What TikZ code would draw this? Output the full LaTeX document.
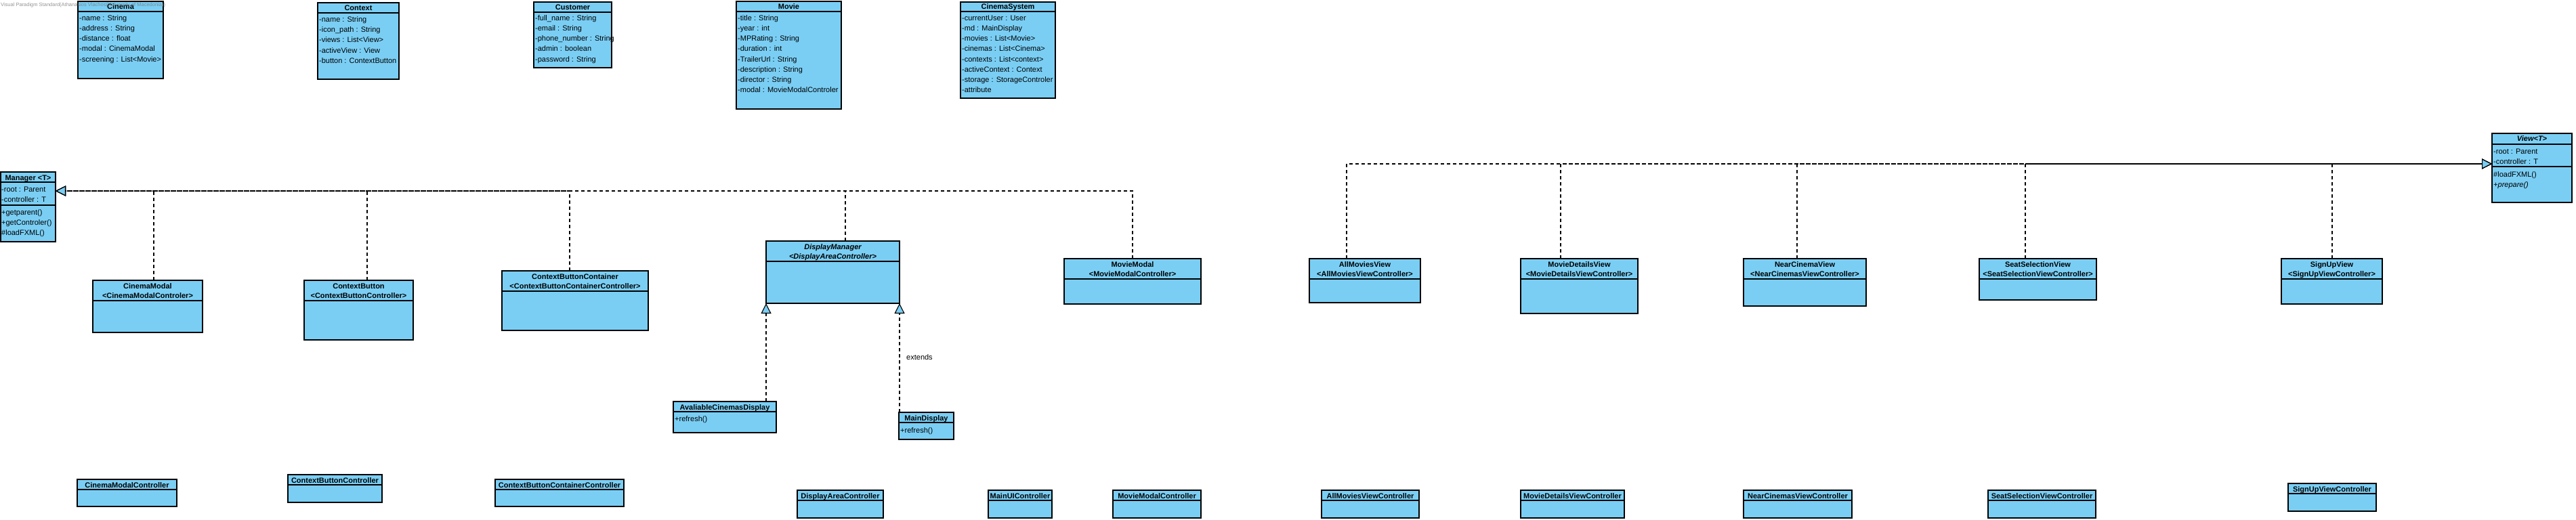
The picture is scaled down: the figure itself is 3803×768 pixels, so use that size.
\documentclass[tikz,border=0pt]{standalone}
\usepackage{fontspec}
\setmainfont{Liberation Sans}
\usetikzlibrary{arrows.meta,fit}
\definecolor{clsblue}{RGB}{122,206,244}
\tikzset{
  cls/.style={draw=black, line width=1.2pt, fill=clsblue, inner sep=0pt, outer sep=0pt},
  sepl/.style={draw=black, line width=1.2pt},
  hdr/.style={font=\fontsize{11}{13}\selectfont\bfseries, inner sep=0pt, anchor=base},
  hdri/.style={font=\fontsize{11}{13}\selectfont\bfseries\itshape, inner sep=0pt, anchor=base},
  attr/.style={font=\fontsize{11}{13}\selectfont, inner sep=0pt, anchor=base west},
  realize/.style={draw=black, line width=1.1pt, dash pattern=on 5pt off 4pt,
    -{Triangle[length=15pt, width=15pt, fill=clsblue, line width=1.1pt]}},
}
\newcommand\ubox[5]{\node[cls, fit={(#2,#3) (#4,#5)}] (#1) {};}
\newcommand\usep[3]{\draw[sepl] (#1,#3) -- (#2,#3);}
\newcommand\attrlist[3]{\foreach \t [count=\i from 0] in {#3} {\node[attr] at (#1,{#2+15*\i}) {\t};}}
\begin{document}
\begin{tikzpicture}[x=1pt,y=-1pt]
\useasboundingbox (0,0) rectangle (3803,768);
\fill[white] (0,0) rectangle (3803,768);

% ---------- top row ----------
\ubox{cinema}{115}{2}{241}{116}\usep{115}{241}{17}
\node[hdr] at (178,14) {Cinema};
\attrlist{117}{31}{-name : String, -address : String, -distance : float, -modal : CinemaModal, -screening : List<Movie>}

\ubox{context}{469}{4}{589}{117}\usep{469}{589}{19}
\node[hdr] at (529,16) {Context};
\attrlist{471}{33}{-name : String, -icon\_path : String, -views : List<View>, -activeView : View, -button : ContextButton}

\ubox{customer}{788}{3}{903}{100}\usep{788}{903}{18}
\node[hdr] at (845.5,15) {Customer};
\attrlist{790}{31}{-full\_name : String, -email : String, -phone\_number : String, -admin : boolean, -password : String}

\ubox{movie}{1087}{2}{1242}{161}\usep{1087}{1242}{17}
\node[hdr] at (1164.5,14) {Movie};
\attrlist{1089}{31}{-title : String, -year : int, -MPRating : String, -duration : int, -TrailerUrl : String, -description : String, -director : String, -modal : MovieModalControler}

\ubox{csys}{1418}{3}{1558}{145}\usep{1418}{1558}{17}
\node[hdr] at (1488,14) {CinemaSystem};
\attrlist{1420}{31}{-currentUser : User, -md : MainDisplay, -movies : List<Movie>, -cinemas : List<Cinema>, -contexts : List<context>, -activeContext : Context, -storage : StorageControler, -attribute}

% ---------- Manager ----------
\ubox{mgr}{1}{254}{82}{357}\usep{1}{82}{269}\usep{1}{82}{303}
\node[hdr] at (41.5,266.5) {Manager <T>};
\attrlist{2}{283}{-root : Parent, -controller : T}
\attrlist{2}{317}{+getparent(), +getControler(), \#loadFXML()}

% ---------- View ----------
\ubox{view}{3679}{197}{3797}{299}\usep{3679}{3797}{213}\usep{3679}{3797}{246}
\node[hdri] at (3738,208) {View<T>};
\attrlist{3681}{227}{-root : Parent, -controller : T}
\attrlist{3681}{261}{\#loadFXML(), {\itshape +prepare()}}

% ---------- middle row ----------
\ubox{cmod}{137}{414}{299}{491}\usep{137}{299}{444}
\node[hdr] at (218,426) {CinemaModal};
\node[hdr] at (218,440.5) {<CinemaModalControler>};

\ubox{cbtn}{449}{414}{610}{502}\usep{449}{610}{444}
\node[hdr] at (529.5,426) {ContextButton};
\node[hdr] at (529.5,440.5) {<ContextButtonController>};

\ubox{cbc}{741}{400}{957}{488}\usep{741}{957}{430}
\node[hdr] at (849,412) {ContextButtonContainer};
\node[hdr] at (849,426.5) {<ContextButtonContainerController>};

\ubox{dm}{1131}{356}{1328}{448}\usep{1131}{1328}{386}
\node[hdri] at (1229.5,368) {DisplayManager};
\node[hdri] at (1229.5,382.5) {<DisplayAreaController>};

\ubox{mmod}{1571}{382}{1773}{449}\usep{1571}{1773}{412}
\node[hdr] at (1672,394) {MovieModal};
\node[hdr] at (1672,408.5) {<MovieModalController>};

\ubox{amv}{1933}{382}{2097}{447}\usep{1933}{2097}{412}
\node[hdr] at (2015,394) {AllMoviesView};
\node[hdr] at (2015,408.5) {<AllMoviesViewController>};

\ubox{mdv}{2245}{382}{2418}{463}\usep{2245}{2418}{412}
\node[hdr] at (2331.5,394) {MovieDetailsView};
\node[hdr] at (2331.5,408.5) {<MovieDetailsViewController>};

\ubox{ncv}{2574}{382}{2755}{452}\usep{2574}{2755}{412}
\node[hdr] at (2664.5,394) {NearCinemaView};
\node[hdr] at (2664.5,408.5) {<NearCinemasViewController>};

\ubox{ssv}{2922}{382}{3095}{443}\usep{2922}{3095}{412}
\node[hdr] at (3008.5,394) {SeatSelectionView};
\node[hdr] at (3008.5,408.5) {<SeatSelectionViewController>};

\ubox{suv}{3368}{382}{3517}{449}\usep{3368}{3517}{412}
\node[hdr] at (3442.5,394) {SignUpView};
\node[hdr] at (3442.5,408.5) {<SignUpViewController>};

% ---------- displays ----------
\ubox{acd}{994}{593}{1146}{639}\usep{994}{1146}{608}
\node[hdr] at (1070,605) {AvaliableCinemasDisplay};
\attrlist{996}{622}{+refresh()}

\ubox{maind}{1327}{609}{1408}{649}\usep{1327}{1408}{624}
\node[hdr] at (1367.5,621) {MainDisplay};
\attrlist{1329}{639}{+refresh()}

\node[attr, anchor=west] (extlbl) at (1338,528) {extends};

% ---------- bottom row ----------
\ubox{cmc}{114}{708}{261}{748}\usep{114}{261}{723}
\node[hdr] at (187.5,720) {CinemaModalController};
\ubox{cbtc}{425}{701}{564}{742}\usep{425}{564}{716}
\node[hdr] at (494.5,713) {ContextButtonController};
\ubox{cbcc}{731}{708}{921}{748}\usep{731}{921}{723}
\node[hdr] at (826,720) {ContextButtonContainerController};
\ubox{dac}{1177}{724}{1304}{765}\usep{1177}{1304}{739}
\node[hdr] at (1240.5,736) {DisplayAreaController};
\ubox{muic}{1459}{724}{1553}{765}\usep{1459}{1553}{739}
\node[hdr] at (1506,736) {MainUIController};
\ubox{mmc}{1643}{724}{1773}{765}\usep{1643}{1773}{739}
\node[hdr] at (1708,736) {MovieModalController};
\ubox{amvc}{1951}{724}{2095}{765}\usep{1951}{2095}{739}
\node[hdr] at (2023,736) {AllMoviesViewController};
\ubox{mdvc}{2245}{724}{2398}{765}\usep{2245}{2398}{739}
\node[hdr] at (2321.5,736) {MovieDetailsViewController};
\ubox{ncvc}{2574}{724}{2734}{765}\usep{2574}{2734}{739}
\node[hdr] at (2654,736) {NearCinemasViewController};
\ubox{ssvc}{2935}{724}{3094}{765}\usep{2935}{3094}{739}
\node[hdr] at (3014.5,736) {SeatSelectionViewController};
\ubox{suvc}{3378}{714}{3508}{755}\usep{3378}{3508}{729}
\node[hdr] at (3443,726) {SignUpViewController};

% ---------- realizations to Manager ----------
\draw[realize] ([xshift=9pt]cmod.north) |- ([yshift=23.5pt]mgr.east);
\draw[realize] ([xshift=12.5pt]cbtn.north) |- ([yshift=23.5pt]mgr.east);
\draw[realize] ([xshift=-8pt]cbc.north) |- ([yshift=23.5pt]mgr.east);
\draw[realize] ([xshift=18.5pt]dm.north) |- ([yshift=23.5pt]mgr.east);
\draw[realize] (mmod.north) |- ([yshift=23.5pt]mgr.east);

% ---------- realizations to View ----------
\draw[realize] ([xshift=-27pt]amv.north) |- ([yshift=6pt]view.west);
\draw[realize] ([xshift=-27.5pt]mdv.north) |- ([yshift=6pt]view.west);
\draw[realize] ([xshift=-11.5pt]ncv.north) |- ([yshift=6pt]view.west);
\draw[realize] ([xshift=-18.5pt]ssv.north) |- ([yshift=6pt]view.west);
\draw[realize] ([xshift=0.5pt]suv.north) |- ([yshift=6pt]view.west);

% ---------- extends DisplayManager ----------
\draw[realize] (acd.north -| dm.south west) -- (dm.south west);
\draw[realize] (maind.north -| dm.south east) -- (dm.south east);

% ---------- watermark ----------
\node[font=\fontsize{7.5}{9}\selectfont, text=black!55, opacity=0.75, anchor=base west, inner sep=0pt] (wm) at (1,10) {Visual Paradigm Standard(Athanasios Vlachos(University of Macedonia))};
\end{tikzpicture}
\end{document}
